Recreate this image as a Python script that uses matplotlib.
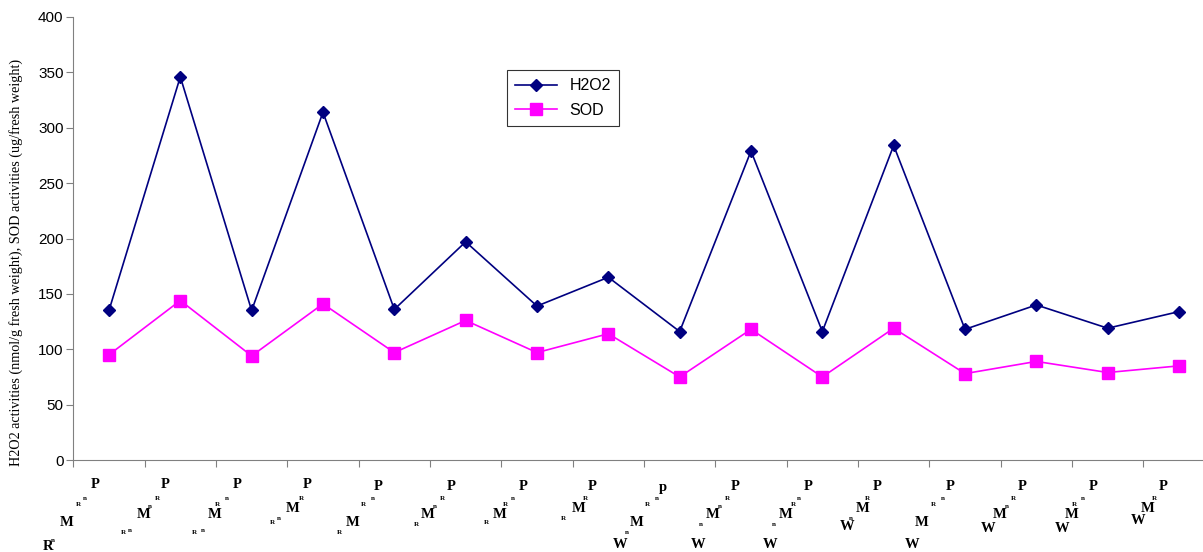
import numpy as np
import matplotlib
matplotlib.use("Agg")
import matplotlib.pyplot as plt

# values
h2o2 = [135, 346, 135, 314, 136, 197, 139, 165, 116, 279, 116, 284, 118, 140, 119, 134]
sod = [95, 144, 94, 141, 97, 126, 97, 114, 75, 118, 75, 119, 78, 89, 79, 85]

# tick labels: each one is a little diagram of letters
tick_glyphs = [
    ["P", "n", "R", "M", "n", "R"],
    ["P", "R", "n", "M", "n", "R"],
    ["P", "n", "R", "M", "n", "R"],
    ["P", "R", "M", "n", "R"],
    ["P", "n", "R", "M", "R"],
    ["P", "R", "n", "M", "R"],
    ["P", "n", "R", "M", "R"],
    ["P", "R", "M", "R"],
    ["p", "n", "R", "M", "n", "W"],
    ["P", "R", "n", "M", "n", "W"],
    ["P", "n", "R", "M", "n", "W"],
    ["P", "R", "M", "n", "W"],
    ["P", "n", "R", "M", "W"],
    ["P", "R", "n", "M", "W"],
    ["P", "n", "R", "M", "W"],
    ["P", "R", "M", "W"],
]

# glyph placement (pixel offsets from tick centre / axis line) and big/small flag
glyph_layout = [
    [(-14, -25, 1), (-24, -39, 0), (-31, -45, 0), (-42, -62, 1), (-56, -81, 0), (-61, -87, 1)],
    [(-15, -25, 1), (-23, -38, 0), (-31, -46, 0), (-37, -55, 1), (-51, -70, 0), (-57, -72, 0)],
    [(-14, -25, 1), (-25, -39, 0), (-34, -45, 0), (-37, -55, 1), (-49, -70, 0), (-57, -72, 0)],
    [(-16, -25, 1), (-22, -38, 0), (-30, -48, 1), (-44, -59, 0), (-51, -63, 0)],
    [(-16, -27, 1), (-22, -39, 0), (-31, -45, 0), (-42, -62, 1), (-55, -72, 0)],
    [(-14, -27, 1), (-23, -38, 0), (-31, -46, 0), (-38, -55, 1), (-49, -64, 0)],
    [(-14, -27, 1), (-24, -39, 0), (-32, -45, 0), (-37, -55, 1), (-51, -63, 0)],
    [(-16, -27, 1), (-23, -38, 0), (-30, -48, 1), (-45, -58, 0)],
    [(-17, -28, 1), (-23, -39, 0), (-32, -45, 0), (-43, -62, 1), (-53, -72, 0), (-60, -84, 1)],
    [(-16, -27, 1), (-24, -38, 0), (-31, -46, 0), (-38, -55, 1), (-50, -65, 0), (-53, -84, 1)],
    [(-14, -27, 1), (-24, -39, 0), (-29, -45, 0), (-37, -55, 1), (-49, -65, 0), (-52, -84, 1)],
    [(-17, -27, 1), (-26, -38, 0), (-31, -48, 1), (-43, -59, 0), (-47, -67, 1)],
    [(-15, -27, 1), (-22, -39, 0), (-32, -45, 0), (-43, -62, 1), (-53, -84, 1)],
    [(-14, -27, 1), (-23, -38, 0), (-30, -46, 0), (-37, -55, 1), (-48, -68, 1)],
    [(-15, -27, 1), (-25, -39, 0), (-33, -45, 0), (-36, -55, 1), (-46, -68, 1)],
    [(-16, -27, 1), (-25, -38, 0), (-31, -48, 1), (-41, -60, 1)],
]

x = np.arange(len(h2o2))

fig = plt.figure(figsize=(12.03, 5.52), dpi=100)
ax = fig.add_axes([73.3 / 1203, 92 / 552, 1141.4 / 1203, 443 / 552])

ax.plot(x, h2o2, color="#000080", marker="D", markersize=6.5, lw=1.2, label="H2O2")
ax.plot(x, sod, color="#FF00FF", marker="s", markersize=8, lw=1.2, label="SOD")

ax.set_xlim(-0.5, len(x) - 0.5)
ax.set_ylim(0, 400)
ax.set_yticks(np.arange(0, 401, 50))
ax.set_xticks(np.arange(len(x) + 1) - 0.5)
ax.set_xticklabels([])
ax.tick_params(axis="y", labelsize=11, length=5, color="#808080", pad=2)
ax.tick_params(axis="x", length=5, color="#808080")
for lab in ax.get_yticklabels():
    lab.set_fontfamily("Liberation Sans")

for s in ["top", "right"]:
    ax.spines[s].set_visible(False)
for s in ["left", "bottom"]:
    ax.spines[s].set_color("#808080")

ax.set_ylabel("H2O2 activities (nmol/g fresh weight), SOD activities (ug/fresh weight)",
              fontfamily="Liberation Serif", fontsize=10.2)
ax.yaxis.set_label_coords(-0.044, 0.447)

for i in range(len(x)):
    for ch, (dx, dy, big) in zip(tick_glyphs[i], glyph_layout[i]):
        ax.annotate(ch, xy=(i, 0), xycoords=ax.get_xaxis_transform(),
                    xytext=(dx, dy), textcoords="offset pixels",
                    ha="center", va="center", fontfamily="Liberation Serif",
                    fontweight="bold", fontsize=10.5 if big else 5,
                    annotation_clip=False)

leg = ax.legend(loc="upper left", bbox_to_anchor=(0.38, 0.88), frameon=True,
                fancybox=False, prop={"family": "Liberation Sans", "size": 11.5},
                handlelength=2.6, borderpad=0.5, labelspacing=0.6, borderaxespad=0)
leg.get_frame().set_edgecolor("black")
leg.get_frame().set_linewidth(0.8)

fig.savefig("out.png", dpi=100)
